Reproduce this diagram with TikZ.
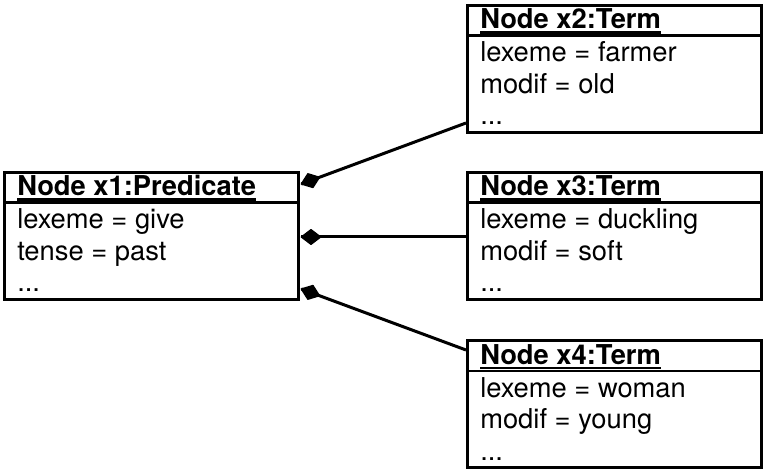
\documentclass[tikz,border=0pt]{standalone}
\usepackage{fontspec}
\setmainfont{TeX Gyre Heros}
\usetikzlibrary{calc}
\newcommand\umlbox[7]{%
  \node[umlframe] (#1) at (#2) {};
  \draw[sepline] ([yshift=-31.5*0.75pt]#1.north west) -- ([yshift=-31.5*0.75pt]#1.north east);
  \node[headtxt] (#1h) at ([xshift=14*0.75pt,yshift=-25*0.75pt]#1.north west) {#3};
  \draw[ulinestyle] ([yshift=-3.5*0.75pt]#1h.base west) -- ([yshift=-3.5*0.75pt]#1h.base east);
  \node[bodytxt] (#1a) at ([xshift=14*0.75pt,yshift=-58*0.75pt]#1.north west) {#4};
  \node[bodytxt] (#1b) at ([xshift=14*0.75pt,yshift=-89.5*0.75pt]#1.north west) {#5};
  \node[bodytxt] (#1c) at ([xshift=14*0.75pt,yshift=-121*0.75pt]#1.north west) {#6};
}
% #1 start coordinate name, #2 tip coordinate name
\newcommand\assocline[2]{%
  \draw[assoc] (#1) -- (#2);
  \filldraw[diamondtip] ($(#2)!0.5*\dlen!(#1)$) coordinate (#2m)
    (#2) -- ($(#2m)!\dwid!90:(#2)$) -- ($(#2)!\dlen!(#1)$) -- ($(#2m)!\dwid!-90:(#2)$) -- cycle;
}
\newcommand\dlen{14.5pt}
\newcommand\dwid{5.5pt}
\begin{document}
\begin{tikzpicture}[x=0.75pt,y=-0.75pt,
  umlframe/.style={draw,line width=2.25pt,rectangle,inner sep=0pt,
    minimum width=294*0.75pt,minimum height=127*0.75pt},
  sepline/.style={line width=2pt},
  ulinestyle/.style={line width=1.6pt},
  headtxt/.style={anchor=base west,inner sep=0pt,font=\fontsize{20.5}{24}\selectfont\bfseries},
  bodytxt/.style={anchor=base west,inner sep=0pt,font=\fontsize{20.5}{24}\selectfont},
  assoc/.style={line width=2.25pt},
  diamondtip/.style={line width=1pt,line join=round}]
\useasboundingbox (0,0) rectangle (764,473);
\umlbox{x1}{151.5,236}{Node x1:Predicate}{lexeme = give}{tense = past}{...}{}
\umlbox{x2}{614.5,69}{Node x2:Term}{lexeme = farmer}{modif = old}{...}{}
\umlbox{x3}{614.5,236}{Node x3:Term}{lexeme = duckling}{modif = soft}{...}{}
\umlbox{x4}{614.5,404.5}{Node x4:Term}{lexeme = woman}{modif = young}{...}{}
\coordinate (s2) at ([yshift=-54*0.75pt]x2.west);
\coordinate (t2) at ([xshift=1pt,yshift=52*0.75pt]x1.east);
\coordinate (s3) at ([yshift=-1*0.75pt]x3.west);
\coordinate (t3) at ([xshift=1pt,yshift=-1*0.75pt]x1.east);
\coordinate (s4) at ([yshift=54.5*0.75pt]x4.west);
\coordinate (t4) at ([xshift=1pt,yshift=-53*0.75pt]x1.east);
\assocline{s2}{t2}
\assocline{s3}{t3}
\assocline{s4}{t4}
\end{tikzpicture}
\end{document}
